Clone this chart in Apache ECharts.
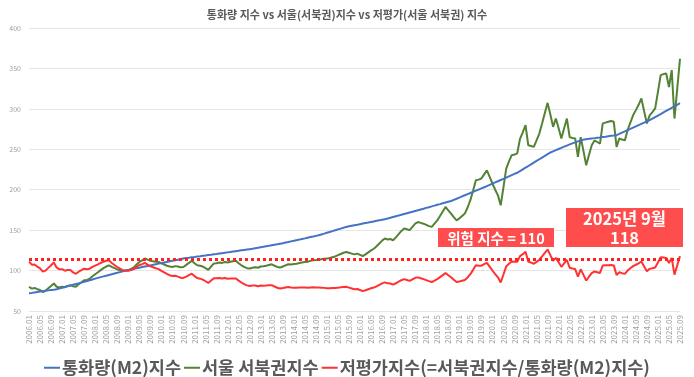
<!DOCTYPE html>
<html>
<head>
<meta charset="utf-8">
<script src="https://cdn.jsdelivr.net/npm/echarts@6/dist/echarts.min.js"></script>
<style>
  html, body { margin: 0; padding: 0; background: #fff; }
  #main { width: 694px; height: 377px; }
</style>
</head>
<body>
<div id="main"></div>
<script>
// 월별 라벨 2006.01 ~ 2025.09
const months = [];
for (let y = 2006; y <= 2025; y++) {
  for (let m = 1; m <= 12; m++) {
    if (y === 2025 && m > 9) break;
    months.push(y + "." + (m < 10 ? "0" + m : m));
  }
}

// 통화량(M2)지수
const m2Index = [
  72, 72.4, 73, 73.5, 74, 74.4, 75, 75.5, 76, 76.4, 77,
  77.8, 78.7, 79.6, 80.5, 81.4, 82.4, 83.3, 84.2, 85.1, 86, 87, 88,
  89, 90, 91, 91.9, 92.8, 93.7, 94.6, 95.5, 96.4, 97.2, 98.1, 99, 100,
  100.7, 101.4, 102.1, 102.8, 103.5, 104.3, 105, 105.7, 106.4, 107.1, 107.9, 108.6,
  109.3, 110, 110.7, 111.4, 112.1, 112.8, 113.5, 114.2, 114.9, 115.6,
  116, 116.5, 116.9, 117.4, 117.8, 118.3, 118.7, 119.2, 119.6, 120.1, 120.5, 121,
  121.5, 122, 122.5, 123, 123.5, 124, 124.5, 125, 125.5, 126, 126.5, 127,
  127.6, 128.2, 128.9, 129.5, 130.1, 130.7, 131.4, 132, 132.6, 133.3, 133.9, 134.6,
  135.3, 136.1, 136.8, 137.6, 138.3, 139.1, 139.8, 140.6, 141.4, 142.1, 142.9, 143.7,
  144.7, 145.7, 146.8, 147.8, 148.8, 149.9, 150.9, 151.9, 152.9, 154,
  154.7, 155.4, 156.1, 156.7, 157.4, 158.1, 158.8, 159.4, 160.1, 160.8, 161.5, 162.1, 162.8, 163.5,
  164.4, 165.4, 166.3, 167.2, 168.1, 169.1, 170, 170.9, 171.8, 172.7, 173.7, 174.6,
  175.6, 176.5, 177.5, 178.4, 179.4, 180.3, 181.3, 182.2, 183.2, 184.1, 185.1, 186,
  187.4, 188.8, 190.2, 191.7, 193.1, 194.5, 195.9, 197.3, 198.8, 200.2, 201.6, 203,
  204.5, 206, 207.5, 209, 210.5, 212, 213.5, 215, 216.5, 218, 219.5, 221,
  223.1, 225.2, 227.3, 229.3, 231.4, 233.5, 235.6, 237.7, 239.8, 241.8, 243.9, 246,
  247.5, 249, 250.4, 251.8, 253.2, 254.6, 256, 257.3, 258.6, 259.8, 260.9, 262,
  262.5, 262.9, 263.4, 263.8, 264.3, 264.7, 265.2, 265.6, 266.1, 266.6, 267, 267.5,
  269, 270.6, 272.1, 273.7, 275.2, 276.8, 278.3, 279.9, 281.4, 282.9, 284.5, 286,
  287.9, 289.8, 291.7, 293.6, 295.5, 297.4, 299.3, 301.2, 303.1, 305, 307
];

// 서울 서북권지수
const nwIndex = [
  80, 77.7, 78.5, 77, 76, 73.5, 75, 78, 81, 84, 80, 79,
  80, 79.5, 81, 82, 80.5, 80, 83, 85.5, 88, 88.5, 90, 93,
  95.5, 98, 100.5, 103, 105, 106.5, 104.5, 103, 101.5, 100.4, 99.5, 100,
  100.4, 102, 104, 107.5, 110.6, 112.5, 115, 113.5, 112, 111.5, 111, 110.6,
  109, 107.5, 106, 105, 104.5, 105.5, 105, 104, 104.5, 107, 109.5, 112,
  109, 106.5, 106, 105, 103, 101, 105, 108.6, 109, 110, 109.5, 110.6,
  110, 111, 111.5, 112, 109, 106.5, 104.5, 103, 102.5, 103.5, 104, 103.5,
  105, 105.3, 106, 107, 107.8, 106, 104.5, 103.7, 105, 106.5, 107.8, 107.5,
  108, 108.5, 109.4, 110, 110.5, 111, 112, 112.7, 113, 113.5, 114, 114.5,
  114.8, 115.5, 116.5, 117.5, 119, 120.5, 122, 123, 122, 121, 120, 121,
  119.5, 118, 120, 122.5, 125, 127, 130, 133.5, 137, 139.6, 138.5, 139,
  137.5, 141, 145, 149, 152, 151, 150, 154, 158, 160, 159, 158,
  156.5, 155, 154, 158, 162, 167.5, 173, 178.7, 174.5, 170.5, 166, 162,
  164.5, 167.5, 170.5, 178, 187, 199, 211.8, 212.5, 213.8, 219, 224, 216,
  207.7, 200, 193, 180.8, 203, 226, 235, 242.7, 243.5, 245, 263, 271,
  279.8, 255, 254, 253, 261, 269.5, 282, 295, 307.4, 293, 277.7, 288,
  276, 263.4, 276, 288, 265, 264, 263.4, 240.6, 265, 248, 230.3, 243,
  255, 261, 259, 257, 282, 283, 284, 285, 284, 253, 263.4, 262,
  261, 273.6, 283, 292, 298.4, 305, 312.9, 297, 282, 292, 296, 300.5,
  321, 341.7, 343, 343.8, 327, 348, 288, 325, 362
];

// 저평가지수(=서북권지수/통화량(M2)지수)
const underIndex = [
  111.1, 107.3, 107.5, 104.8, 102.7, 98.8, 100, 103.3, 106.6, 109.9, 103.9, 101.5,
  101.7, 99.9, 100.6, 100.7, 97.7, 96, 98.6, 100.5, 102.3, 101.7, 102.3, 104.5,
  106.1, 107.7, 109.4, 111, 112.1, 112.6, 109.4, 106.8, 104.4, 102.3, 100.5, 100,
  99.7, 100.6, 101.9, 104.6, 106.9, 107.9, 109.5, 107.4, 105.3, 104.1, 102.9, 101.8,
  99.7, 97.7, 95.8, 94.3, 93.2, 93.5, 92.5, 91.1, 90.9, 92.6, 94.4, 96.1,
  93.2, 90.7, 90, 88.8, 86.8, 84.7, 87.8, 90.4, 90.5, 90.9, 90.1, 90.7,
  89.8, 90.2, 90.3, 90.3, 87.6, 85.2, 83.3, 81.7, 81, 81.5, 81.5, 80.7,
  81.5, 81.3, 81.5, 81.9, 82, 80.3, 78.8, 77.8, 78.4, 79.1, 79.7, 79,
  78.9, 78.9, 79.1, 79.1, 79, 78.9, 79.2, 79.3, 79.1, 79, 78.8, 78.6,
  78.2, 78.1, 78.3, 78.4, 78.9, 79.3, 79.8, 79.9, 78.9, 77.9, 76.9, 77.2,
  75.9, 74.6, 75.6, 76.9, 78.1, 79, 80.5, 82.4, 84.2, 85.4, 84.2, 84,
  82.7, 84.3, 86.3, 88.1, 89.4, 88.4, 87.3, 89.2, 91, 91.6, 90.5, 89.5,
  88.2, 86.9, 85.8, 87.6, 89.4, 91.9, 94.4, 97.1, 94.3, 91.7, 88.6, 85.8,
  86.5, 87.4, 88.3, 91.5, 95.5, 100.9, 106.5, 106.1, 106.1, 107.9, 109.5, 104.9,
  100.1, 95.7, 91.7, 85.3, 95.1, 105.1, 108.5, 111.3, 110.9, 110.9, 117.9, 120.3,
  123.1, 111.2, 109.8, 108.4, 110.8, 113.4, 117.6, 122, 126, 119.1, 112.2, 115.7,
  110.2, 104.6, 109, 113.1, 103.5, 102.6, 101.9, 92.6, 101.6, 94.7, 87.7, 92.4,
  96.8, 98.9, 98, 97.1, 106.3, 106.6, 106.7, 106.9, 106.4, 94.6, 97.9, 96.8,
  95.9, 100, 102.8, 105.5, 107.2, 109, 111.2, 105, 99.1, 102.1, 102.8, 103.7,
  110, 116.4, 116.1, 115.6, 109.3, 115.5, 95, 106.6, 117.9
];

const riskLine = 114;

const chart = echarts.init(document.getElementById("main"));
const font = "'Noto Sans CJK KR', 'Noto Sans', sans-serif";

const option = {
  animation: false,
  textStyle: { fontFamily: font },
  title: {
    text: "통화량 지수 vs 서울(서북권)지수 vs 저평가(서울 서북권) 지수",
    left: "center",
    top: 4,
    textStyle: { fontSize: 11, fontWeight: "bold", color: "#595959", fontFamily: font },
  },
  legend: {
    top: 354,
    left: "center",
    icon: "rect",
    itemWidth: 16,
    itemHeight: 2,
    itemGap: 3,
    textStyle: { fontSize: 17.5, fontWeight: "bold", color: "#595959", fontFamily: font, padding: [0, 0, 0, -3] },
    data: ["통화량(M2)지수", "서울 서북권지수", "저평가지수(=서북권지수/통화량(M2)지수)"],
  },
  grid: { left: 29, right: 14, top: 28, bottom: 66 },
  xAxis: {
    type: "category",
    data: months,
    boundaryGap: false,
    axisLine: { show: false },
    axisTick: { show: false },
    axisLabel: { interval: 3, rotate: 90, fontSize: 8, color: "#a0a0a0", margin: 4 },
  },
  yAxis: {
    type: "value",
    min: 50,
    max: 400,
    interval: 50,
    axisLine: { show: false },
    axisTick: { show: false },
    axisLabel: { fontSize: 7, color: "#a0a0a0", margin: 8 },
    splitLine: { lineStyle: { color: "#e6e6e6", width: 1 } },
  },
  series: [
    {
      name: "통화량(M2)지수",
      type: "line",
      data: m2Index,
      showSymbol: false,
      lineStyle: { color: "#4472C4", width: 2 },
      itemStyle: { color: "#4472C4" },
      z: 3,
    },
    {
      name: "서울 서북권지수",
      type: "line",
      data: nwIndex,
      showSymbol: false,
      lineStyle: { color: "#548235", width: 2 },
      itemStyle: { color: "#548235" },
      z: 2,
    },
    {
      name: "저평가지수(=서북권지수/통화량(M2)지수)",
      type: "line",
      data: underIndex,
      showSymbol: false,
      lineStyle: { color: "#FF3131", width: 2 },
      itemStyle: { color: "#FF3131" },
      z: 4,
      markLine: {
        silent: true,
        symbol: "none",
        label: { show: false },
        lineStyle: { color: "#FF2020", width: 3, type: [3, 3] },
        data: [{ yAxis: riskLine }],
      },
    },
  ],
  graphic: [
    { type: "rect", left: 438, top: 228, shape: { width: 116, height: 19 }, style: { fill: "#FF4C4C" }, z: 100 },
    {
      type: "text", x: 496, y: 238, z: 101,
      style: { text: "위험 지수 = 110", fill: "#fff", font: "bold 14.5px " + font, textAlign: "center", textVerticalAlign: "middle" },
    },
    { type: "rect", left: 566, top: 208, shape: { width: 117, height: 39 }, style: { fill: "#FF4C4C" }, z: 100 },
    {
      type: "text", x: 624.5, y: 219, z: 101,
      style: { text: "2025년 9월", fill: "#fff", font: "bold 16.5px " + font, textAlign: "center", textVerticalAlign: "middle" },
    },
    {
      type: "text", x: 624.5, y: 238, z: 101,
      style: { text: "118", fill: "#fff", font: "bold 16.5px " + font, textAlign: "center", textVerticalAlign: "middle" },
    },
  ],
};

chart.setOption(option);
</script>
</body>
</html>
